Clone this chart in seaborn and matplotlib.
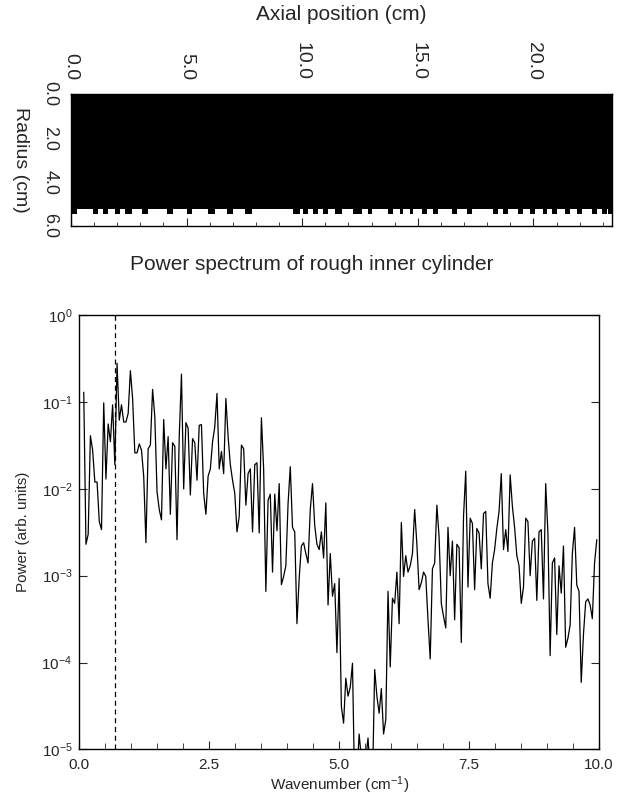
import numpy as np
import matplotlib
matplotlib.use('Agg')
import matplotlib.pyplot as plt
from matplotlib.ticker import MultipleLocator, NullLocator, FormatStrFormatter
import seaborn as sns

# Rough cylinder geometry (cm)
AXIAL_LENGTH = 23.4
base_radius = 5.22
bump_radius = 5.45
bump_starts = [0.03, 0.95, 1.38, 1.90, 2.34, 3.07, 4.15, 5.02, 5.93, 6.75, 7.53,
               9.60, 10.03, 10.47, 10.90, 11.42, 12.20, 12.85, 13.71, 14.23, 14.66,
               15.18, 15.66, 16.48, 17.13, 18.25, 18.69, 19.33, 19.85, 20.41, 20.80,
               21.37, 21.89, 22.53, 22.97, 23.23]
bump_ends = [0.25, 1.17, 1.60, 2.12, 2.64, 3.33, 4.41, 5.23, 6.23, 7.01, 7.83,
             9.90, 10.25, 10.68, 11.12, 11.70, 12.60, 13.02, 13.93, 14.36, 14.79,
             15.40, 15.87, 16.70, 17.34, 18.47, 18.90, 19.55, 20.07, 20.59, 21.02,
             21.58, 22.10, 22.75, 23.18, 23.40]

# Power spectrum, one value per Fourier mode n = 2, 3, ... (k = n / L)
first_mode = 2
power = [
    0.13, 0.0023, 0.0030, 0.041, 0.028, 0.012, 0.012, 0.0042, 0.0034, 0.098,
    0.013, 0.056, 0.035, 0.093, 0.019, 0.28, 0.062, 0.093, 0.059, 0.059,
    0.074, 0.23, 0.11, 0.026, 0.026, 0.033, 0.028, 0.014, 0.0024, 0.029,
    0.032, 0.14, 0.068, 0.0093, 0.0058, 0.0044, 0.063, 0.017, 0.040, 0.0051,
    0.034, 0.031, 0.0026, 0.040, 0.21, 0.010, 0.058, 0.050, 0.0085, 0.038,
    0.034, 0.0126, 0.054, 0.055, 0.0089, 0.0051, 0.014, 0.017, 0.035, 0.052,
    0.126, 0.017, 0.027, 0.015, 0.11, 0.040, 0.019, 0.0126, 0.0089, 0.0032,
    0.0048, 0.032, 0.029, 0.0065, 0.015, 0.017, 0.0032, 0.019, 0.020, 0.0031,
    0.066, 0.017, 0.00066, 0.0074, 0.0087, 0.0011, 0.0087, 0.0033, 0.0115, 0.00079,
    0.00098, 0.0013, 0.0068, 0.018, 0.0036, 0.0032, 0.00028, 0.00093, 0.0022, 0.0024,
    0.0018, 0.0014, 0.0058, 0.0115, 0.0038, 0.0023, 0.0020, 0.0032, 0.0016, 0.0069,
    0.00046, 0.0018, 0.00058, 0.00081, 0.00013, 0.00093, 3.1e-5, 2.0e-5, 6.6e-5, 4.1e-5,
    5.2e-5, 9.8e-5, 3.2e-6, 5.0e-6, 1.5e-5, 7.9e-6, 4.0e-6, 7.9e-6, 1.35e-5, 5.0e-6,
    4.0e-6, 8.3e-5, 4.1e-5, 2.6e-5, 5.0e-5, 1.5e-5, 2.2e-5, 0.00066, 8.9e-5, 0.00055,
    0.00048, 0.0011, 0.00028, 0.0041, 0.00098, 0.0017, 0.0011, 0.0013, 0.0018, 0.0058,
    0.0023, 0.00069, 0.00083, 0.0011, 0.00098, 0.00031, 0.00011, 0.0012, 0.0014, 0.0065,
    0.0028, 0.00048, 0.00034, 0.00025, 0.0036, 0.0010, 0.0025, 0.00031, 0.0023, 0.0021,
    0.00017, 0.0048, 0.016, 0.00074, 0.0046, 0.0040, 0.00069, 0.0035, 0.0031, 0.0012,
    0.0052, 0.0055, 0.00081, 0.00055, 0.0014, 0.0020, 0.0035, 0.0055, 0.015, 0.0020,
    0.0034, 0.0019, 0.0145, 0.0063, 0.0036, 0.0017, 0.0013, 0.00048, 0.00074, 0.0046,
    0.0042, 0.0010, 0.0025, 0.0027, 0.00052, 0.0032, 0.0034, 0.00054, 0.0115, 0.0031,
    0.00012, 0.0014, 0.0016, 0.00021, 0.0013, 0.00063, 0.0022, 0.00015, 0.00019, 0.00027,
    0.0018, 0.0036, 0.00078, 0.00066, 5.9e-5, 0.00021, 0.00050, 0.00054, 0.00046, 0.00032,
    0.0014, 0.0026,
]
cutoff_wavenumber = 0.69

W, H = 624, 797


def build_profile():
    z = [0.0]
    r = [base_radius]
    for s, e in zip(bump_starts, bump_ends):
        z += [s, e]
        r += [bump_radius, base_radius]
    z.append(AXIAL_LENGTH)
    r.append(base_radius)
    return np.array(z), np.array(r)


def draw_cylinder(ax):
    z, r = build_profile()
    ax.fill_between(z, 0, r, step='post', color='black', lw=0)
    ax.set_xlim(0, AXIAL_LENGTH)
    ax.set_ylim(6.0, 0.0)

    ax.xaxis.set_major_locator(MultipleLocator(5.0))
    ax.xaxis.set_minor_locator(MultipleLocator(1.0))
    ax.xaxis.set_major_formatter(FormatStrFormatter('%.1f'))
    ax.yaxis.set_major_locator(MultipleLocator(2.0))
    ax.yaxis.set_major_formatter(FormatStrFormatter('%.1f'))
    ax.yaxis.set_minor_locator(NullLocator())
    ax.tick_params(axis='x', which='both', direction='in', top=True, bottom=True,
                   labeltop=True, labelbottom=False, labelsize=14, labelrotation=270, pad=10)
    ax.tick_params(axis='x', which='major', length=6)
    ax.tick_params(axis='x', which='minor', length=3)
    ax.tick_params(axis='y', which='major', direction='in', left=True, right=True,
                   labelsize=13, labelrotation=270, length=5, pad=9)
    for lab in ax.get_yticklabels():
        lab.set_va('center')
    ax.set_xlabel('Axial position (cm)', fontsize=15, va='center')
    ax.xaxis.set_label_coords(0.5, (226 - 15) / 132)
    ax.set_ylabel('Radius (cm)', fontsize=14, rotation=270, va='center', ha='center')
    ax.yaxis.set_label_coords((20 - 71) / 541, 0.5)
    for sp in ax.spines.values():
        sp.set_linewidth(1.0)


def draw_spectrum(ax):
    wavenumber = np.arange(first_mode, first_mode + len(power)) / AXIAL_LENGTH
    ax.set_yscale('log')
    sns.lineplot(x=wavenumber, y=power, ax=ax, color='black', linewidth=0.9,
                 estimator=None, sort=False)
    ax.axvline(cutoff_wavenumber, color='black', linestyle=(0, (4, 3)), linewidth=0.9)
    ax.set_xlim(0, 10)
    ax.set_ylim(1e-5, 1)
    ax.xaxis.set_major_locator(MultipleLocator(2.5))
    ax.xaxis.set_minor_locator(MultipleLocator(0.5))
    ax.xaxis.set_major_formatter(FormatStrFormatter('%.1f'))
    ax.set_yticks([1e-5, 1e-4, 1e-3, 1e-2, 1e-1, 1e0])
    ax.yaxis.set_minor_locator(NullLocator())
    ax.tick_params(axis='x', which='both', direction='in', top=False, bottom=True,
                   labelsize=11, pad=6)
    ax.tick_params(axis='x', which='major', length=6)
    ax.tick_params(axis='x', which='minor', length=4)
    ax.tick_params(axis='y', which='major', direction='in', left=True, right=True,
                   labelsize=11, length=6, pad=5)
    ax.set_xlabel('Wavenumber (cm$^{-1}$)', fontsize=11, labelpad=2)
    ax.set_ylabel('Power (arb. units)', fontsize=11, labelpad=8)
    for sp in ax.spines.values():
        sp.set_linewidth(1.0)


def main():
    sns.set_style('ticks')
    plt.rcParams['font.family'] = ['Liberation Sans', 'DejaVu Sans']
    plt.rcParams['mathtext.fontset'] = 'custom'
    plt.rcParams['mathtext.rm'] = 'Liberation Sans'
    plt.rcParams['mathtext.it'] = 'Liberation Sans:italic'
    plt.rcParams['mathtext.bf'] = 'Liberation Sans:bold'
    plt.rcParams['axes.edgecolor'] = 'black'

    fig = plt.figure(figsize=(W / 100, H / 100), dpi=100)
    ax_top = fig.add_axes([71 / W, 1 - 226 / H, (612 - 71) / W, (226 - 94) / H])
    ax_bot = fig.add_axes([79.3 / W, 1 - 749.3 / H, (599 - 79.3) / W, (749.3 - 315.3) / H])

    draw_cylinder(ax_top)
    draw_spectrum(ax_bot)
    fig.text(0.5, 1 - 265 / H, 'Power spectrum of rough inner cylinder',
             ha='center', va='center', fontsize=15)

    fig.savefig('out.png', dpi=100)
    plt.close(fig)


if __name__ == "__main__":
    main()
